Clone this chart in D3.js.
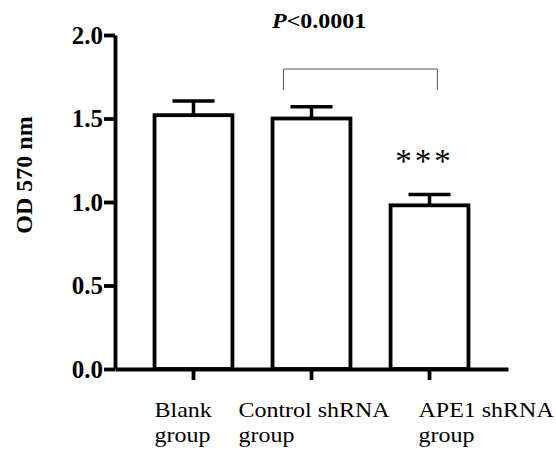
<!DOCTYPE html>
<html>
<head>
<meta charset="utf-8">
<script src="https://cdn.jsdelivr.net/npm/d3@7"></script>
<style>
  body { margin: 0; background: #fff; }
  svg { display: block; }
  text { font-family: "Liberation Serif", "Times New Roman", serif; fill: #000; }
</style>
</head>
<body>
<svg id="chart" width="556" height="452"></svg>
<script>
// data
let groups = ["Blank", "Control", "APE1"];
let labelLines = [["Blank", "group"], ["Control shRNA", "group"], ["APE1 shRNA", "group"]];
let means = [1.52, 1.50, 0.98];
let errs = [0.085, 0.07, 0.065];
let yTicks = [0.0, 0.5, 1.0, 1.5, 2.0];
let stars = ["", "", "***"];
let pText = "<0.0001";

// layout
let width = 556, height = 452;
let labelShift = [-39, -73, -11];   // labels are left-aligned blocks, offset from tick
let stretch = 1.09;                 // source text is a bit wide

let svg = d3.select("#chart");

let x = d3.scaleBand()
  .domain(groups)
  .range([115, 508])
  .paddingInner(0.34)
  .paddingOuter(0.335)
  ;

let y = d3.scaleLinear()
  .domain([0, 2])
  .range([369, 35])
  ;

// bars
let bars = svg.selectAll("g.bar")
  .data(groups)
  .enter()
  .append("g")
  .classed("bar", true)
  ;

// error bars (upper only, drawn first so bar top covers them)
bars.append("line")
  .attr("x1", d => x(d) + x.bandwidth() / 2)
  .attr("x2", d => x(d) + x.bandwidth() / 2)
  .attr("y1", (d, i) => y(means[i]))
  .attr("y2", (d, i) => y(means[i] + errs[i]))
  .attr("stroke", "#000")
  .attr("stroke-width", 3.5)
  ;
bars.append("line")
  .attr("x1", d => x(d) + x.bandwidth() / 2 - x.bandwidth() * 0.27)
  .attr("x2", d => x(d) + x.bandwidth() / 2 + x.bandwidth() * 0.27)
  .attr("y1", (d, i) => y(means[i] + errs[i]))
  .attr("y2", (d, i) => y(means[i] + errs[i]))
  .attr("stroke", "#000")
  .attr("stroke-width", 3.5)
  ;

bars.append("rect")
  .attr("x", d => x(d))
  .attr("y", (d, i) => y(means[i]))
  .attr("width", x.bandwidth())
  .attr("height", (d, i) => y(0) - y(means[i]))
  .attr("fill", "#fff")
  .attr("stroke", "#000")
  .attr("stroke-width", 3.8)
  ;

// significance stars
bars.append("text")
  .attr("x", d => x(d) + x.bandwidth() / 2 - 5)
  .attr("y", (d, i) => y(means[i] + errs[i]) - 22)
  .attr("text-anchor", "middle")
  .attr("font-size", 33)
  .attr("letter-spacing", 3)
  .text((d, i) => stars[i])
  ;

// y axis
let yAxis = svg.append("g")
  .attr("transform", "translate(115,0)")
  .call(d3.axisLeft(y).tickValues(yTicks).tickFormat(d3.format(".1f")).tickSize(11).tickSizeOuter(0))
  ;
yAxis.select(".domain").attr("stroke-width", 3.8);
yAxis.selectAll(".tick line").attr("stroke-width", 3.8);
yAxis.selectAll(".tick text")
  .attr("x", -12)
  .attr("font-size", 25)
  .attr("font-weight", "bold")
  .attr("fill", "#000")
  ;

// x axis
let xAxis = svg.append("g")
  .attr("transform", `translate(0,${y(0)})`)
  .call(d3.axisBottom(x).tickSize(11).tickSizeOuter(0).tickFormat(""))
  ;
xAxis.select(".domain").attr("stroke-width", 3.8);
xAxis.selectAll(".tick line").attr("stroke-width", 3.8);

// x labels
let xLabels = svg.selectAll("text.xlab")
  .data(groups)
  .enter()
  .append("text")
  .classed("xlab", true)
  .attr("font-size", 22)
  .attr("transform", (d, i) => `translate(${x(d) + x.bandwidth() / 2 + labelShift[i]},417) scale(${stretch},1)`)
  ;
xLabels.selectAll("tspan")
  .data((d, i) => labelLines[i])
  .enter()
  .append("tspan")
  .attr("x", 0)
  .attr("y", (d, j) => j * 25)
  .text(d => d)
  ;

// y title
svg.append("text")
  .attr("transform", "translate(32,175) rotate(-90)")
  .attr("text-anchor", "middle")
  .attr("font-size", 24)
  .attr("font-weight", "bold")
  .text("OD 570 nm")
  ;

// comparison bracket
let bx1 = x("Control") + x.bandwidth() * 0.14;
let bx2 = x("APE1") + x.bandwidth() * 0.6;
svg.append("path")
  .attr("d", `M${bx1},90 V69 H${bx2} V90`)
  .attr("fill", "none")
  .attr("stroke", "#555")
  .attr("stroke-width", 1)
  ;

let pLabel = svg.append("text")
  .attr("transform", `translate(272,28) scale(${stretch},1)`)
  .attr("font-size", 22)
  .attr("font-weight", "bold")
  ;
pLabel.append("tspan").attr("font-style", "italic").text("P");
pLabel.append("tspan").text(pText);
</script>
</body>
</html>
